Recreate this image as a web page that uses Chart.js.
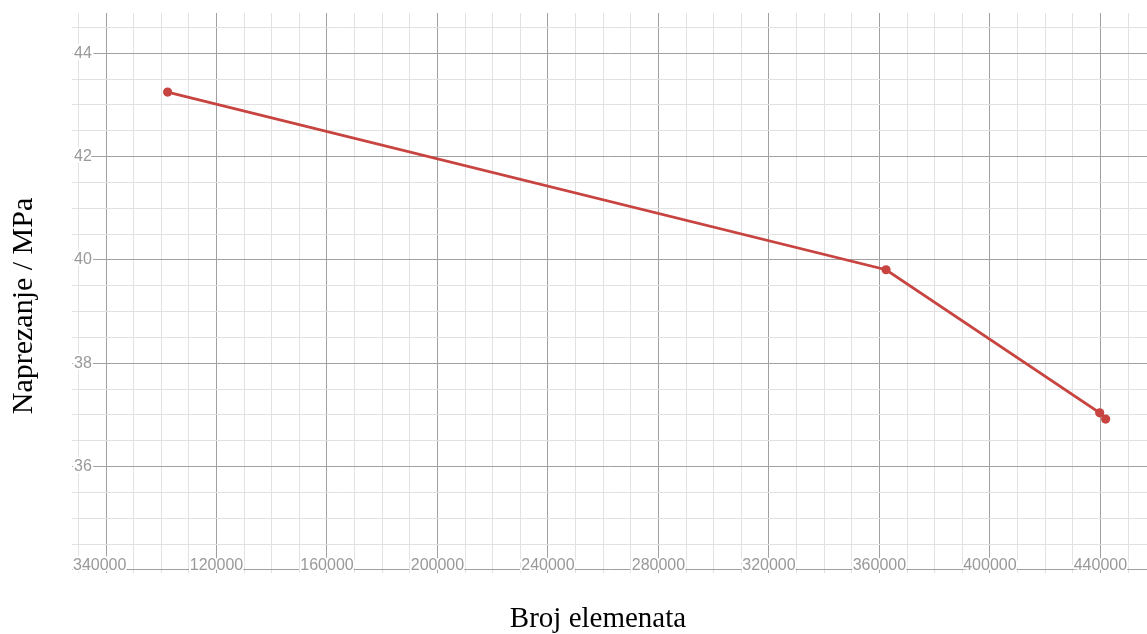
<!DOCTYPE html>
<html>
<head>
<meta charset="utf-8">
<script src="https://cdn.jsdelivr.net/npm/chart.js@4/dist/chart.umd.min.js"></script>
<style>
  html, body { margin: 0; padding: 0; background: #fff; overflow: hidden; }
  canvas { display: block; }
</style>
</head>
<body>
<canvas id="c" width="1152" height="634"></canvas>
<script>
// ===== 数据 =====
const elementCounts = [102300, 362400, 439750, 441900];
const stressValues = [43.25, 39.81, 37.04, 36.92];

// 刻度（数值 + 显示文字）
const xTickValues = [80000, 120000, 160000, 200000, 240000, 280000, 320000, 360000, 400000, 440000];
const xTickLabels = ['340000', '120000', '160000', '200000', '240000', '280000', '320000', '360000', '400000', '440000'];
const yTickValues = [36, 38, 40, 42, 44];
const yTickLabels = ['36', '38', '40', '42', '44'];

const xTitle = 'Broj elemenata';
const yTitle = 'Naprezanje / MPa';

// ===== 样式 =====
const lineColor = '#c74440';
const majorGrid = '#a0a0a0';
const minorGrid = '#e1e1e1';
const labelColor = '#999999';

function onStep(v, step) {
  return Math.abs(v / step - Math.round(v / step)) < 1e-6;
}

// 网格线：主线之间再细分 4 格（x 每 10000，y 每 0.5）
function gridTicks(scale, step) {
  const ticks = [];
  for (let v = Math.ceil(scale.min / step) * step; v <= scale.max + 1e-9; v += step) {
    ticks.push({ value: Math.round(v * 1000) / 1000 });
  }
  scale.ticks = ticks;
}

// 轴标签画在绘图区内部（带白色描边），轴标题单独画
const labelsPlugin = {
  id: 'insideLabels',
  afterDraw(chart) {
    const { ctx, chartArea: a, scales: { x, y } } = chart;
    ctx.save();
    ctx.font = '16px "Liberation Sans", Arial, sans-serif';
    ctx.lineJoin = 'round';
    ctx.lineWidth = 4;
    ctx.strokeStyle = '#fff';
    ctx.fillStyle = labelColor;

    ctx.textBaseline = 'middle';
    ctx.textAlign = 'left';
    yTickValues.forEach((v, i) => {
      const py = y.getPixelForValue(v);
      ctx.strokeText(yTickLabels[i], a.left + 2, py);
      ctx.fillText(yTickLabels[i], a.left + 2, py);
    });

    xTickValues.forEach((v, i) => {
      const px = x.getPixelForValue(v);
      const w = ctx.measureText(xTickLabels[i]).width;
      let left = px - w / 2;
      if (i === 0) left = a.left + 1; // 和左侧 y 标签挤在一起
      ctx.strokeText(xTickLabels[i], left, a.bottom - 7);
      ctx.fillText(xTickLabels[i], left, a.bottom - 7);
    });

    // 轴标题
    ctx.fillStyle = '#000';
    ctx.textAlign = 'center';
    ctx.textBaseline = 'alphabetic';
    ctx.font = '29px "Liberation Serif", "Times New Roman", serif';
    ctx.fillText(xTitle, 598, 627);
    ctx.font = '30px "Liberation Serif", "Times New Roman", serif';
    ctx.translate(32, 306);
    ctx.rotate(-Math.PI / 2);
    ctx.fillText(yTitle, 0, 0);
    ctx.restore();
  },
};

new Chart(document.getElementById('c'), {
  type: 'scatter',
  data: {
    datasets: [{
      data: elementCounts.map((n, i) => ({ x: n, y: stressValues[i] })),
      showLine: true,
      borderColor: lineColor,
      backgroundColor: lineColor,
      borderWidth: 2.8,
      pointRadius: 4.6,
      pointBorderWidth: 0,
      pointHoverRadius: 4.6,
    }],
  },
  options: {
    responsive: false,
    animation: false,
    devicePixelRatio: 1,
    layout: { padding: { left: 72, top: 13, right: 0, bottom: 61 } },
    plugins: { legend: { display: false }, tooltip: { enabled: false } },
    scales: {
      x: {
        type: 'linear',
        min: 67686,
        max: 457022,
        afterBuildTicks: (s) => gridTicks(s, 10000),
        ticks: { display: false, autoSkip: false },
        border: { display: false },
        grid: {
          drawTicks: false,
          color: (c) => (onStep(c.tick.value, 40000) ? majorGrid : minorGrid),
        },
      },
      y: {
        type: 'linear',
        min: 33.94,
        max: 44.78,
        afterBuildTicks: (s) => gridTicks(s, 0.5),
        ticks: { display: false, autoSkip: false },
        border: { display: false },
        grid: {
          drawTicks: false,
          color: (c) => (onStep(c.tick.value, 2) ? majorGrid : minorGrid),
        },
      },
    },
  },
  plugins: [labelsPlugin],
});
</script>
</body>
</html>
